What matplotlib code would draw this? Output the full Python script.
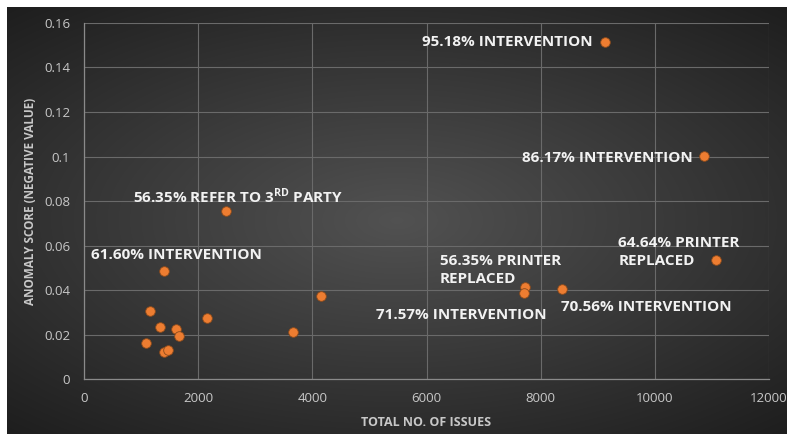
import numpy as np
import matplotlib
matplotlib.use("Agg")
import matplotlib.pyplot as plt

plt.rcParams['font.family'] = ['Open Sans', 'DejaVu Sans']
plt.rcParams['mathtext.fontset'] = 'custom'
plt.rcParams['mathtext.rm'] = 'Open Sans:bold'
plt.rcParams['mathtext.bf'] = 'Open Sans:bold'

issues = [9120, 10870, 2490, 1410, 11070, 7720, 7710, 8380, 4160, 3660, 2160,
          1150, 1340, 1610, 1660, 1080, 1410, 1480]
scores = [0.1515, 0.1002, 0.0755, 0.0485, 0.0535, 0.0413, 0.0386, 0.0404, 0.0372,
          0.0212, 0.0273, 0.0307, 0.0232, 0.0226, 0.0192, 0.0163, 0.0120, 0.0130]
labels = ["95.18% INTERVENTION", "86.17% INTERVENTION",
          "56.35% REFER TO 3$^{\\mathrm{RD}}$ PARTY", "61.60% INTERVENTION",
          "64.64% PRINTER\nREPLACED", "56.35% PRINTER\nREPLACED",
          "71.57% INTERVENTION", "70.56% INTERVENTION"]
x_ticks = [0, 2000, 4000, 6000, 8000, 10000, 12000]
y_ticks = [0, 0.02, 0.04, 0.06, 0.08, 0.1, 0.12, 0.14, 0.16]
y_ticklabels = ["0", "0.02", "0.04", "0.06", "0.08", "0.1", "0.12", "0.14", "0.16"]

W, H = 787, 434
fig = plt.figure(figsize=(W / 100, H / 100), dpi=100, facecolor='white')

# radial gradient background (chart area offset by a thin white margin top/left)
bg = fig.add_axes([7 / W, 0, 1 - 7 / W, 1 - 7 / H], zorder=-10)
yy, xx = np.mgrid[-1:1:300j, -1:1:500j]
r = np.sqrt((xx * 0.9) ** 2 + (yy * 1.0) ** 2)
val = np.clip(0.32 - 0.15 * r, 0, 1)
bg.imshow(np.dstack([val, val, val]), aspect='auto', extent=[0, 1, 0, 1],
          interpolation='bilinear')
bg.set_xlim(0, 1)
bg.set_ylim(0, 1)
bg.axis('off')

ax = fig.add_axes([84 / W, 1 - 379 / H, (769 - 84) / W, (379 - 23) / H])
ax.set_facecolor('none')
ax.scatter(issues, scores, s=48, color='#ED7D31', edgecolors='#8a4a1c',
           linewidths=0.6, zorder=3)

ax.set_xlim(0, 12000)
ax.set_ylim(0, 0.16)
ax.set_xticks(x_ticks)
ax.set_xticklabels([str(t) for t in x_ticks])
ax.set_yticks(y_ticks)
ax.set_yticklabels(y_ticklabels)
ax.grid(True, color='#6a6a6a', linewidth=0.8)
ax.set_axisbelow(True)
ax.tick_params(colors='#c8c8c8', labelsize=9.5, length=0)
ax.tick_params(axis='y', pad=10)
ax.tick_params(axis='x', pad=9)
for s in ['top', 'right']:
    ax.spines[s].set_visible(False)
for s in ['left', 'bottom']:
    ax.spines[s].set_color('#8a8a8a')
    ax.spines[s].set_linewidth(0.9)
ax.set_xlabel("TOTAL NO. OF ISSUES", color='#c8c8c8', fontsize=9, fontweight='bold', labelpad=8)
ax.set_ylabel("ANOMALY SCORE (NEGATIVE VALUE)", color='#c8c8c8', fontsize=8.5, fontweight='bold', labelpad=5)

# annotation offsets in pixels relative to the point
ann = [
    (0, (-12, 0), 'right', 'center'),
    (1, (-12, -2), 'right', 'center'),
    (2, (12, 15), 'center', 'center'),
    (3, (12, 16), 'center', 'center'),
    (4, (-37, 8), 'center', 'center'),
    (5, (-24, 17), 'center', 'center'),
    (6, (23, -22), 'right', 'center'),
    (7, (-1, -18), 'left', 'center'),
]
for i, (dx, dy), ha, va in ann:
    ax.annotate(labels[i], (issues[i], scores[i]), xytext=(dx, dy),
                textcoords='offset pixels', ha=ha, va=va, color='#f2f2f2',
                fontsize=11, fontweight='bold', linespacing=1.35,
                multialignment='left', zorder=4)

fig.savefig("out.png", dpi=100, facecolor='white')
